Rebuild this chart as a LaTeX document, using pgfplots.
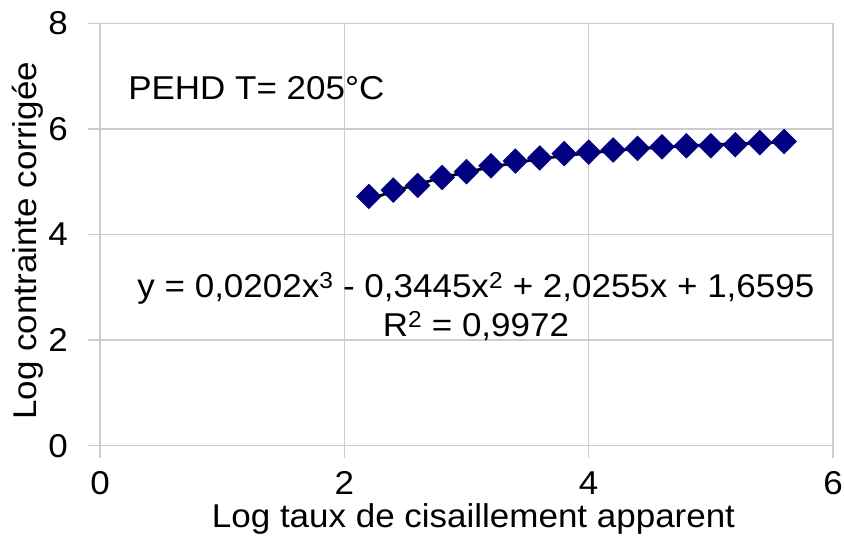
\documentclass[border=0pt]{standalone}
\usepackage{fontspec}
\setmainfont[FakeStretch=1.06]{Liberation Sans}
\usepackage{pgfplots}
\pgfplotsset{compat=1.18}
\definecolor{gridgray}{RGB}{204,204,204}
\definecolor{navyblue}{RGB}{0,0,128}
\newcommand{\bigfont}{\fontsize{33}{38}\selectfont}
\begin{document}
\bigfont
\begin{tikzpicture}
\begin{axis}[
  at={(0pt,0pt)}, anchor=south west,
  scale only axis, width=733pt, height=422.4pt,
  xmin=0, xmax=6, ymin=0, ymax=8,
  xtick={0,2,4,6}, ytick={0,2,4,6,8},
  grid=major, grid style={gridgray, line width=1.3pt},
  axis line style={draw=none},
  tick align=outside, major tick length=12pt,
  tick style={gridgray, line width=1.3pt},
  xtick pos=bottom, ytick pos=left,
  /pgf/number format/assume math mode=true,
  ticklabel style={font=\bigfont, inner sep=0pt},
  yticklabel style={anchor=east, xshift=-20pt},
  xticklabel style={anchor=north, yshift=-14pt},
  xlabel={Log taux de cisaillement apparent},
  ylabel={Log contrainte corrigée},
  label style={font=\bigfont, inner sep=0pt},
  xlabel style={at={(axis description cs:0.5096,0)}, anchor=base, yshift=-82pt},
  ylabel style={at={(axis description cs:-0.0873,0.485)}, anchor=base},
  clip=false,
]
\addplot[only marks, mark=square*, mark size=8.8pt,
  mark options={rotate=45, fill=navyblue, draw=navyblue}] coordinates {
(2.2,4.72) (2.4,4.84) (2.6,4.93) (2.8,5.08) (3.0,5.19) (3.2,5.30)
(3.4,5.39) (3.6,5.45) (3.8,5.53) (4.0,5.56) (4.2,5.60) (4.4,5.63)
(4.6,5.66) (4.8,5.68) (5.0,5.68) (5.2,5.70) (5.4,5.74) (5.6,5.76)
};
\addplot[black, line width=2.8pt, smooth, no marks] coordinates {
(2.2,4.663) (2.4,4.816) (2.6,4.952) (2.8,5.074) (3.0,5.181) (3.2,5.275)
(3.4,5.358) (3.6,5.429) (3.8,5.490) (4.0,5.542) (4.2,5.586) (4.4,5.623)
(4.6,5.653) (4.8,5.679) (5.0,5.700) (5.2,5.717) (5.4,5.732) (5.6,5.748)
};
\node[anchor=base west, inner sep=0pt, font=\bigfont]
  at (axis cs:0.23,6.55) {PEHD T= 205°C};
\node[anchor=base, inner sep=0pt, font=\bigfont]
  at (axis cs:3.077,2.80) {y = 0,0202x\textsuperscript{3} - 0,3445x\textsuperscript{2} + 2,0255x + 1,6595};
\node[anchor=base, inner sep=0pt, font=\bigfont]
  at (axis cs:3.077,2.06) {R\textsuperscript{2} = 0,9972};
\end{axis}
\pgfresetboundingbox
\path[use as bounding box] (-100pt,-94.3pt) rectangle (744pt,445.7pt);
\end{tikzpicture}
\end{document}
